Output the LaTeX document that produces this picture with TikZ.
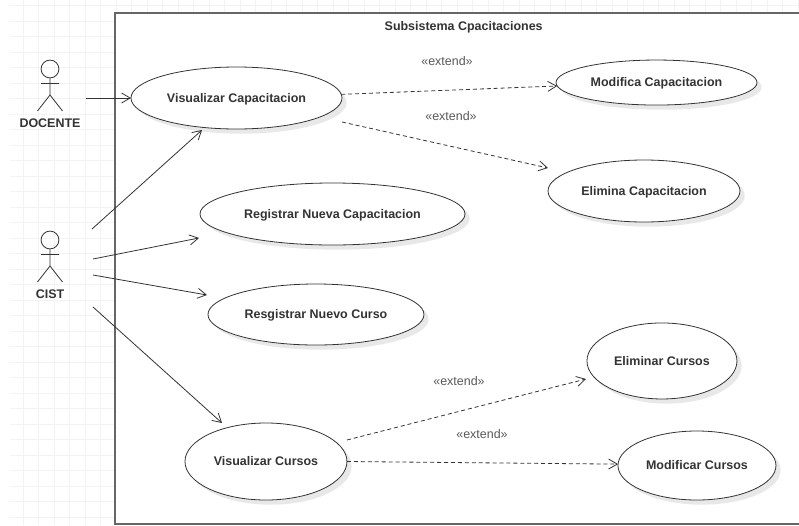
\documentclass[tikz,border=0pt]{standalone}
\usepackage{fontspec}
\setmainfont{Liberation Sans}
\usepackage{xcolor}
\usetikzlibrary{shapes.geometric, arrows.meta, positioning, shadows}

\definecolor{gridline}{HTML}{F3F3F3}
\definecolor{inkdark}{HTML}{333333}

\begin{document}
\begin{tikzpicture}[
        x=0.75pt, y=-0.75pt,
        usecase/.style={ellipse, draw=inkdark, fill=white, inner sep=0pt, outer sep=0pt, text=inkdark,
            font=\fontsize{9.35}{11}\selectfont\bfseries, text height=6.5pt, text depth=0pt, line width=0.6pt,
            drop shadow={shadow xshift=3.5pt, shadow yshift=-3.5pt, fill=black!9, opacity=1}},
        sysbox/.style={rectangle, draw=black!60, fill=white, line width=1.1pt, inner sep=0pt, outer sep=0pt},
        boldtext/.style={inner sep=0pt, text=inkdark, font=\fontsize{9.35}{11}\selectfont\bfseries},
        stereo/.style={inner sep=0pt, text=black!65, font=\fontsize{9.35}{11}\selectfont},
        arrow/.style={-{Straight Barb[length=6.5pt, width=7.5pt]}, draw=inkdark, line width=0.6pt},
        extend/.style={arrow, dash pattern=on 3pt off 2.2pt},
        actor/.pic={
            \draw[draw=inkdark, line width=0.6pt]
                (0,31.5pt) circle[radius=6.7pt]
                (0,24.75pt) -- (0,12pt)
                (-9.4pt,0) -- (0,12pt) -- (9.4pt,0)
                (-6.75pt,20.6pt) -- (6.75pt,20.6pt);
        }
    ]
    \useasboundingbox (0,0) rectangle (799,525);
    \fill[white] (0,0) rectangle (799,525);

    % background grid
    \foreach \gx in {0,...,50} \draw[gridline, line width=0.6pt] (23+15.5*\gx,0) -- (23+15.5*\gx,525);
    \foreach \gy in {0,...,33} \draw[gridline, line width=0.6pt] (10,5.5+15.5*\gy) -- (799,5.5+15.5*\gy);

    \node (system) [sysbox, minimum width=525pt, minimum height=383.25pt] at (465,268.5) {};
    \node (title) [boldtext, below=6.5pt of system.north, xshift=-1pt] {Subsistema Cpacitaciones};

    % use cases
    \node (visCap) [usecase, minimum width=158.25pt, minimum height=46.5pt] at (236.5,98) {Visualizar Capacitacion};
    \node (modCap) [usecase, minimum width=150.75pt, minimum height=33.75pt, right=160.5pt of visCap, yshift=11.6pt] {Modifica Capacitacion};
    \node (elimCap) [usecase, minimum width=144pt, minimum height=46.5pt, right=154.5pt of visCap, yshift=-69.75pt] {Elimina Capacitacion};
    \node (regCap) [usecase, minimum width=198.75pt, minimum height=46.5pt, below=40.5pt of visCap, xshift=72pt] {Registrar Nueva Capacitacion};
    \node (regCur) [usecase, minimum width=162pt, minimum height=45.75pt, below=29.25pt of regCap, xshift=-12.4pt] {Resgistrar Nuevo Curso};
    \node (visCur) [usecase, minimum width=121.5pt, minimum height=57.75pt, below=58.5pt of regCur, xshift=-37.5pt] {Visualizar Cursos};
    \node (elimCur) [usecase, minimum width=112.5pt, minimum height=57pt, right=180pt of visCur, yshift=75.4pt] {Eliminar Cursos};
    \node (modCur) [usecase, minimum width=118.5pt, minimum height=51.75pt, right=203.25pt of visCur, yshift=-3pt] {Modificar Cursos};

    % actors
    \coordinate (docenteFeet) at (50,111);
    \coordinate (cistFeet) at (50,282);
    \pic at (docenteFeet) {actor};
    \pic at (cistFeet) {actor};
    \node (docente) [boldtext, below=6pt of docenteFeet] {DOCENTE};
    \node (cist) [boldtext, below=5.5pt of cistFeet] {CIST};

    % free connector ends
    \coordinate (docenteOut) at (86,98);
    \coordinate (cistOutA) at (92,229);
    \coordinate (cistOutB) at (93,259);
    \coordinate (cistOutC) at (93,275);
    \coordinate (cistOutD) at (93,307);
    \coordinate (visCapIn) at (202,130);
    \coordinate (regCapIn) at (199,238);
    \coordinate (regCurIn) at (207,295);
    \coordinate (visCurIn) at (222,423);
    \coordinate (visCapOut) at (342,122);
    \coordinate (elimCapIn) at (548,168);
    \coordinate (visCurOut) at (347,440);
    \coordinate (elimCurIn) at (586,379);

    \draw[arrow] (docenteOut) -- (visCap.west);
    \draw[arrow] (cistOutA) -- (visCapIn);
    \draw[arrow] (cistOutB) -- (regCapIn);
    \draw[arrow] (cistOutC) -- (regCurIn);
    \draw[arrow] (cistOutD) -- (visCurIn);
    \draw[extend] (visCap.2) -- (modCap.182);
    \draw[extend] (visCapOut) -- (elimCapIn);
    \draw[extend] (visCurOut) -- (elimCurIn);
    \draw[extend] (visCur.east) -- (modCur.179);

    % stereotypes
    \node (extA) [stereo] at (447,61) {«extend»};
    \node (extB) [stereo] at (451,116) {«extend»};
    \node (extC) [stereo] at (459,381) {«extend»};
    \node (extD) [stereo] at (482,434) {«extend»};
\end{tikzpicture}
\end{document}
